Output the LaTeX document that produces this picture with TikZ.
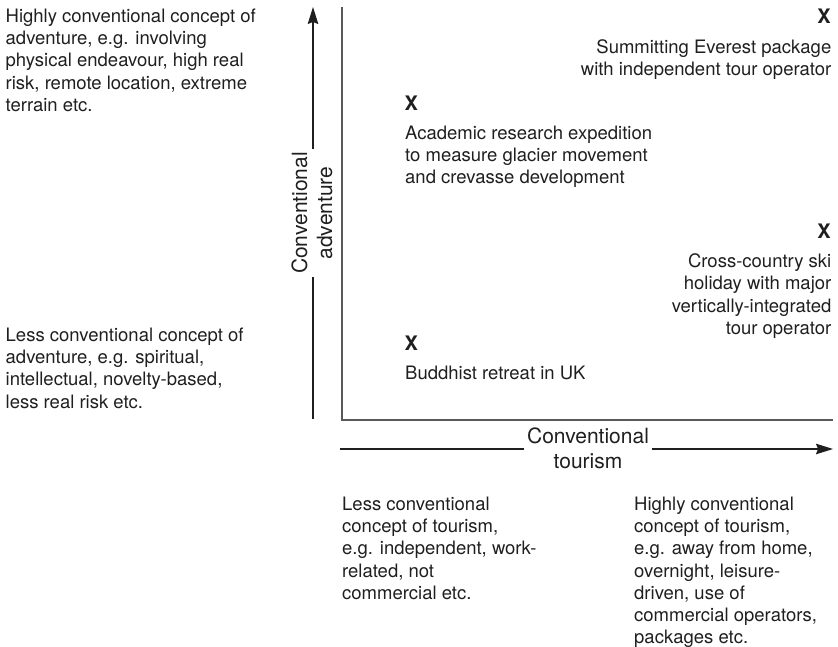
\documentclass[tikz,border=0pt]{standalone}
\usepackage{fontspec}
\setmainfont{TeX Gyre Heros}
\usetikzlibrary{arrows.meta}
\begin{document}
\begin{tikzpicture}[x=1pt,y=-1pt,
  body/.style={font=\fontsize{18.5}{22.25}\selectfont, inner sep=0pt, text=black!88},
  xmark/.style={font=\fontsize{20}{24}\selectfont\bfseries, inner sep=0pt, text=black!88},
  axlab/.style={font=\fontsize{21}{25}\selectfont, inner xsep=2.5pt, inner ysep=0pt, text=black!88},
  axisline/.style={draw=black!65, line width=1.3pt},
  arrline/.style={draw=black!88, line width=1.3pt},
  tip/.style={-{Stealth[length=17pt,width=10.5pt,inset=2pt]}}
]
\useasboundingbox (0,0) rectangle (838,647);

% axes
\coordinate (ytop) at (342,7);
\coordinate (orig) at (342,420);
\coordinate (xend) at (833,420);
\draw[axisline] (ytop) -- (orig) -- (xend);

% vertical arrow with label
\coordinate (vbot) at (313,419);
\coordinate (vtop) at (313,7);
\node[axlab, rotate=90, anchor=base] (vlab1) at (307,213) {Conventional};
\node[axlab, rotate=90, anchor=base] (vlab2) at (332,213) {adventure};
\draw[arrline] (vbot) -- (vbot |- vlab1.west);
\draw[arrline, tip] (vbot |- vlab1.east) -- (vtop);

% horizontal arrow with label
\coordinate (hl) at (340,449);
\coordinate (hr) at (833,449);
\node[axlab, anchor=base] (hlab1) at (588,443) {Conventional};
\node[axlab, anchor=base] (hlab2) at (588,468) {tourism};
\draw[arrline] (hl) -- (hl -| hlab1.west);
\draw[arrline, tip] (hl -| hlab1.east) -- (hr);

% left texts
\node[body, anchor=north west, align=left] (advhigh) at (5.5,8.6)
  {Highly conventional concept of\\adventure, e.g. involving\\physical endeavour, high real\\risk, remote location, extreme\\terrain etc.};
\node[body, anchor=north west, align=left] (advlow) at (5.5,327.6)
  {Less conventional concept of\\adventure, e.g. spiritual,\\intellectual, novelty-based,\\less real risk etc.};

% bottom texts
\node[body, anchor=north west, align=left] (tourlow) at (342,496.6)
  {Less conventional\\concept of tourism,\\e.g. independent, work-\\related, not\\commercial etc.};
\node[body, anchor=north west, align=left] (tourhigh) at (634,496.6)
  {Highly conventional\\concept of tourism,\\e.g. away from home,\\overnight, leisure-\\driven, use of\\commercial operators,\\packages etc.};

% plotted examples
\node[xmark, anchor=north east] (x1) at (831,8.5) {X};
\node[body, anchor=north east, align=right] (t1) at (831.5,39.6)
  {Summitting Everest package\\with independent tour operator};

\node[xmark, anchor=north west] (x2) at (404.5,96) {X};
\node[body, anchor=north west, align=left] (t2) at (405,125.6)
  {Academic research expedition\\to measure glacier movement\\and crevasse development};

\node[xmark, anchor=north east] (x3) at (831,223.5) {X};
\node[body, anchor=north east, align=right] (t3) at (831.5,253.6)
  {Cross-country ski\\holiday with major\\vertically-integrated\\tour operator};

\node[xmark, anchor=north west] (x4) at (404.5,335.5) {X};
\node[body, anchor=north west, align=left] (t4) at (405,365.6)
  {Buddhist retreat in UK};
\end{tikzpicture}
\end{document}
